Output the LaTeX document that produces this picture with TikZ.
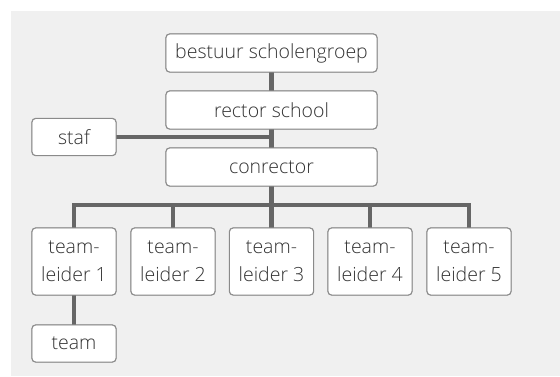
\documentclass[tikz,border=0pt]{standalone}
\usepackage{fontspec}
\setmainfont{Open Sans}[UprightFont=* Light]
\definecolor{bgrey}{HTML}{F0F0F0}
\definecolor{lgrey}{HTML}{666666}
\definecolor{egrey}{HTML}{8A8A8A}
\definecolor{tgrey}{HTML}{333333}
\tikzset{
  orgbox/.style={draw=egrey, fill=white, rounded corners=4pt, line width=0.7pt,
    text=tgrey, font=\fontsize{19.5}{28}\selectfont, align=center, inner sep=0pt},
  widebox/.style={orgbox, minimum width=211pt, minimum height=38pt},
  smallbox/.style={orgbox, minimum width=84pt, minimum height=37pt},
  tlbox/.style={orgbox, minimum width=84pt, minimum height=67pt},
  link/.style={draw=lgrey, line width=4.5pt}
}
\begin{document}
\begin{tikzpicture}[x=1pt, y=-1pt]
        \useasboundingbox (0,0) rectangle (560,376);
        \fill[bgrey] (11,11) rectangle (560,376);

        \coordinate (bus) at (271.5,205);

        \node[widebox] (bestuur) at (271.5,53) {bestuur scholengroep};
        \node[widebox] (rector) at (271.5,110) {rector school};
        \node[widebox] (conrector) at (271.5,167) {conrector};
        \node[smallbox] (staf) at (74,137) {staf};

        \node[tlbox] (tl1) at (74,261.5) {team-\\leider 1};
        \node[tlbox] (tl2) at (173,261.5) {team-\\leider 2};
        \node[tlbox] (tl3) at (271.5,261.5) {team-\\leider 3};
        \node[tlbox] (tl4) at (370,261.5) {team-\\leider 4};
        \node[tlbox] (tl5) at (469,261.5) {team-\\leider 5};

        \node[smallbox] (team) at (74,343.5) {team};

        % verbindingen
        \draw[link] (bestuur.south) -- (rector.north);
        \draw[link] (rector.south) -- (conrector.north);
        \draw[link] (staf.east) -- (staf.east -| rector.south);
        \draw[link] (conrector.south) -- (bus);
        \foreach \i in {1,...,5}
            \draw[link] (tl\i.north) |- (bus);
        \draw[link] (tl1.south) -- (team.north);

        % randen opnieuw over de lijnen
        \foreach \n in {bestuur,rector,conrector,staf,tl1,tl2,tl3,tl4,tl5,team}
            \draw[draw=egrey, rounded corners=4pt, line width=0.7pt]
                (\n.south west) rectangle (\n.north east);
\end{tikzpicture}
\end{document}
